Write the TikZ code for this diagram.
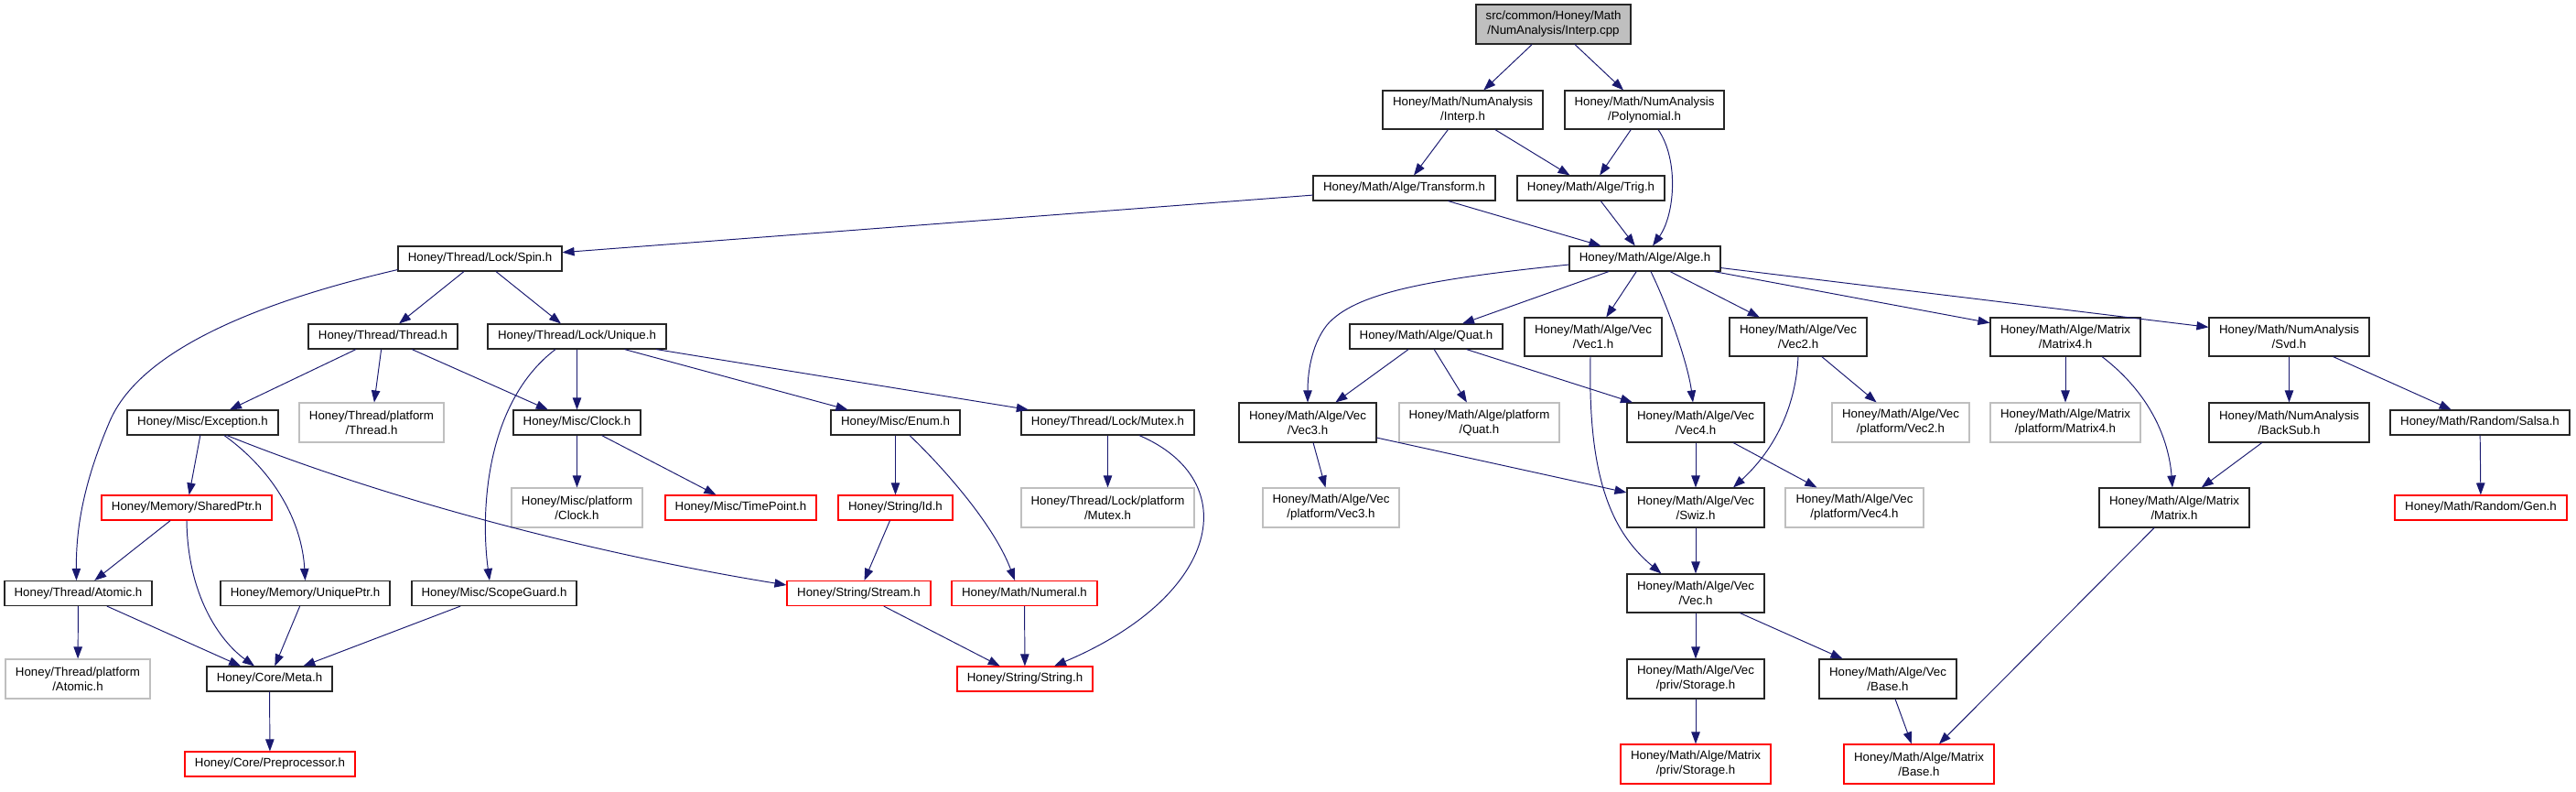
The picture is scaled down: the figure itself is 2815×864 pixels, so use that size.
\documentclass[tikz,border=0pt]{standalone}
\usepackage{fontspec}
\setmainfont{Liberation Sans}
\usetikzlibrary{arrows.meta,calc}
\definecolor{mblue}{HTML}{191970}
\tikzset{
  sz/.style 2 args={minimum width=#1*0.5pt, minimum height=#2*0.5pt},
  nd/.style={draw=black!85, line width=0.55pt, inner sep=0pt, align=center, fill=white,
             font=\fontsize{6.65}{8}\selectfont},
  gr/.style={nd, draw=black!25},
  rd/.style={nd, draw=red},
  rt/.style={nd, fill=black!25},
  ed/.style={draw=mblue, line width=0.48pt, -{Triangle[length=6.5pt,width=4.7pt]}},
}
\begin{document}
\begin{tikzpicture}[x=0.5pt,y=-0.5pt]
\fill[white] (0,0) rectangle (2815,864);
\useasboundingbox (0,0) rectangle (2815,864);
% nodes
\node[rt,sz={169}{43}] (root) at (1697.5,26.5) {src/common/Honey/Math\\/NumAnalysis/Interp.cpp};
\node[nd,sz={175}{42}] (interp) at (1598.5,120) {Honey/Math/NumAnalysis\\/Interp.h};
\node[nd,sz={174}{42}] (poly) at (1797,120) {Honey/Math/NumAnalysis\\/Polynomial.h};
\node[nd,sz={199}{27}] (transform) at (1534.5,205.5) {Honey/Math/Alge/Transform.h};
\node[nd,sz={161}{27}] (trig) at (1738.5,205.5) {Honey/Math/Alge/Trig.h};
\node[nd,sz={165}{27}] (alge) at (1797.5,282.5) {Honey/Math/Alge/Alge.h};
\node[nd,sz={179}{27}] (spin) at (524.5,282.5) {Honey/Thread/Lock/Spin.h};
\node[nd,sz={163}{27}] (thread) at (418.5,367.5) {Honey/Thread/Thread.h};
\node[nd,sz={195}{27}] (unique) at (630.5,367.5) {Honey/Thread/Lock/Unique.h};
\node[nd,sz={167}{27}] (quat) at (1558.5,367.5) {Honey/Math/Alge/Quat.h};
\node[nd,sz={150}{42}] (vecone) at (1741,368) {Honey/Math/Alge/Vec\\/Vec1.h};
\node[nd,sz={150}{42}] (vectwo) at (1965,368) {Honey/Math/Alge/Vec\\/Vec2.h};
\node[nd,sz={164}{42}] (matfour) at (2257,368) {Honey/Math/Alge/Matrix\\/Matrix4.h};
\node[nd,sz={175}{42}] (svd) at (2501.5,368) {Honey/Math/NumAnalysis\\/Svd.h};
\node[nd,sz={165}{27}] (exception) at (221.5,461.5) {Honey/Misc/Exception.h};
\node[gr,sz={158}{43}] (threadplat) at (406,461.5) {Honey/Thread/platform\\/Thread.h};
\node[nd,sz={139}{27}] (clock) at (630.5,461.5) {Honey/Misc/Clock.h};
\node[nd,sz={141}{27}] (enum) at (978.5,461.5) {Honey/Misc/Enum.h};
\node[nd,sz={189}{27}] (mutex) at (1210.5,461.5) {Honey/Thread/Lock/Mutex.h};
\node[nd,sz={150}{43}] (vecthree) at (1429,461.5) {Honey/Math/Alge/Vec\\/Vec3.h};
\node[gr,sz={175}{43}] (quatplat) at (1616.5,461.5) {Honey/Math/Alge/platform\\/Quat.h};
\node[nd,sz={150}{43}] (vecfour) at (1853,461.5) {Honey/Math/Alge/Vec\\/Vec4.h};
\node[gr,sz={150}{43}] (vectwoplat) at (2077,461.5) {Honey/Math/Alge/Vec\\/platform/Vec2.h};
\node[gr,sz={164}{43}] (matfourplat) at (2257,461.5) {Honey/Math/Alge/Matrix\\/platform/Matrix4.h};
\node[nd,sz={175}{43}] (backsub) at (2501.5,461.5) {Honey/Math/NumAnalysis\\/BackSub.h};
\node[nd,sz={196}{27}] (salsa) at (2710,461.5) {Honey/Math/Random/Salsa.h};
\node[rd,sz={186}{27}] (sharedptr) at (204,554.5) {Honey/Memory/SharedPtr.h};
\node[gr,sz={143}{43}] (clockplat) at (630.5,554.5) {Honey/Misc/platform\\/Clock.h};
\node[rd,sz={165}{27}] (timepoint) at (809.5,554.5) {Honey/Misc/TimePoint.h};
\node[rd,sz={125}{27}] (id) at (978.5,554.5) {Honey/String/Id.h};
\node[gr,sz={189}{43}] (mutexplat) at (1210.5,554.5) {Honey/Thread/Lock/platform\\/Mutex.h};
\node[gr,sz={149}{43}] (vecthreeplat) at (1454.5,554.5) {Honey/Math/Alge/Vec\\/platform/Vec3.h};
\node[nd,sz={150}{43}] (swiz) at (1853,554.5) {Honey/Math/Alge/Vec\\/Swiz.h};
\node[gr,sz={151}{43}] (vecfourplat) at (2026.5,554.5) {Honey/Math/Alge/Vec\\/platform/Vec4.h};
\node[nd,sz={164}{43}] (matrix) at (2376,554.5) {Honey/Math/Alge/Matrix\\/Matrix.h};
\node[rd,sz={188}{27}] (gen) at (2711,554.5) {Honey/Math/Random/Gen.h};
\node[nd,sz={161}{27}] (atomic) at (85.5,648) {Honey/Thread/Atomic.h};
\node[nd,sz={185}{27}] (uniqueptr) at (333.5,648) {Honey/Memory/UniquePtr.h};
\node[nd,sz={180}{27}] (scopeguard) at (540,648) {Honey/Misc/ScopeGuard.h};
\node[rd,sz={157}{27}] (stream) at (938.5,648) {Honey/String/Stream.h};
\node[rd,sz={159}{27}] (numeral) at (1119.5,648) {Honey/Math/Numeral.h};
\node[nd,sz={150}{42}] (vec) at (1853,648) {Honey/Math/Alge/Vec\\/Vec.h};
\node[gr,sz={158}{43}] (atomicplat) at (85,741.5) {Honey/Thread/platform\\/Atomic.h};
\node[nd,sz={137}{27}] (meta) at (294.5,741.5) {Honey/Core/Meta.h};
\node[rd,sz={148}{27}] (string) at (1120,741.5) {Honey/String/String.h};
\node[nd,sz={150}{43}] (storage) at (1853,741.5) {Honey/Math/Alge/Vec\\/priv/Storage.h};
\node[nd,sz={150}{43}] (base) at (2063,741.5) {Honey/Math/Alge/Vec\\/Base.h};
\node[rd,sz={186}{27}] (preproc) at (295,834.5) {Honey/Core/Preprocessor.h};
\node[rd,sz={164}{43}] (matstorage) at (1853,834.5) {Honey/Math/Alge/Matrix\\/priv/Storage.h};
\node[rd,sz={164}{43}] (matbase) at (2097,834.5) {Honey/Math/Alge/Matrix\\/Base.h};
% straight edges
\foreach \a/\b in {root/interp, root/poly, interp/transform, interp/trig, poly/trig,
  transform/spin, transform/alge, trig/alge, spin/thread, spin/unique,
  thread/exception, thread/threadplat, thread/clock, unique/clock, unique/enum, unique/mutex,
  exception/sharedptr, clock/clockplat, clock/timepoint, enum/id, mutex/mutexplat,
  sharedptr/atomic, atomic/atomicplat, atomic/meta, uniqueptr/meta, scopeguard/meta,
  meta/preproc, id/stream, stream/string, numeral/string,
  alge/quat, alge/vecone, alge/vectwo, alge/matfour, alge/svd,
  quat/vecthree, quat/quatplat, quat/vecfour, vectwo/vectwoplat,
  vecthree/vecthreeplat, vecthree/swiz, vecfour/swiz, vecfour/vecfourplat,
  swiz/vec, vec/storage, vec/base, storage/matstorage, base/matbase,
  matfour/matfourplat, svd/backsub, svd/salsa, backsub/matrix, salsa/gen, matrix/matbase}
  \draw[ed] (\a) -- (\b);
% curved edges
\draw[ed] ($(poly.south)+(15,0)$) .. controls (1835,175) and (1830,235) .. ($(alge.north)+(8.5,0)$);
\draw[ed] ($(spin.south west)+(0,-2)$) .. controls (260,335) and (150,390) .. (120,460)
   .. controls (90,530) and (83,580) .. ($(atomic.north)+(-2,0)$);
\draw[ed] ($(unique.south)+(-23.5,0)$) .. controls (530,440) and (525,560) .. ($(scopeguard.north)+(-5,0)$);
\draw[ed] ($(exception.south)+(23.5,0)$) .. controls (300,515) and (330,570) .. (uniqueptr.north);
\draw[ed] ($(exception.south)+(26.5,0)$) .. controls (420,545) and (650,605) .. ($(stream.west)+(0,-9)$);
\draw[ed] ($(enum.south)+(15.5,0)$) .. controls (1025,505) and (1085,570) .. ($(numeral.north)+(-10.5,0)$);
\draw[ed] ($(mutex.south)+(34.5,0)$) .. controls (1360,525) and (1335,650) .. ($(string.north)+(32,0)$);
\draw[ed] (sharedptr.south) .. controls (205,650) and (240,700) .. ($(meta.north)+(-16.5,0)$);
\draw[ed] ($(alge.west)+(0,6.5)$) .. controls (1560,305) and (1480,320) .. (1450,355)
   .. controls (1432,378) and (1429,410) .. (vecthree.north);
\draw[ed] ($(alge.south)+(6.5,0)$) .. controls (1825,340) and (1845,400) .. ($(vecfour.north)+(-3,0)$);
\draw[ed] ($(vecone.south)+(-3,0)$) .. controls (1735,520) and (1760,580) .. ($(vec.north west)+(38,0)$);
\draw[ed] (vectwo.south) .. controls (1962,450) and (1935,495) .. ($(swiz.north)+(41,0)$);
\draw[ed] ($(matfour.south)+(40,0)$) .. controls (2350,430) and (2370,480) .. ($(matrix.north)+(-2,0)$);
\end{tikzpicture}
\end{document}
